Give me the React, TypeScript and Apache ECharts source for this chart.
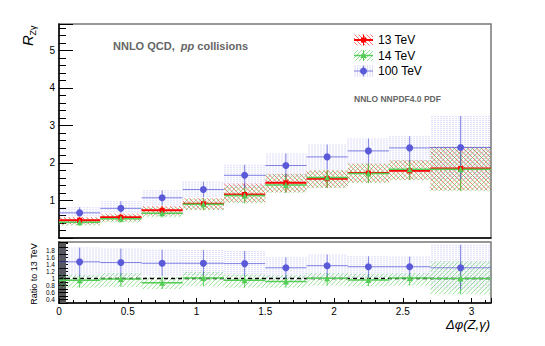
import React, { useEffect, useRef } from 'react';
import * as echarts from 'echarts';

// ---- data ----
const binEdges = [0, 0.3, 0.6, 0.9, 1.2, 1.5, 1.8, 2.1, 2.4, 2.7, Math.PI];

// top panel: R_Zgamma
const r13 = [0.47, 0.55, 0.74, 0.91, 1.16, 1.47, 1.58, 1.73, 1.79, 1.85];
const r13Lo = [0.36, 0.44, 0.6, 0.75, 0.95, 1.22, 1.34, 1.48, 1.55, 1.27];
const r13Hi = [0.56, 0.65, 0.85, 1.06, 1.45, 1.71, 1.8, 1.98, 2.07, 2.43];

const r14 = [0.42, 0.51, 0.66, 0.9, 1.13, 1.41, 1.61, 1.72, 1.83, 1.83];
const r14Lo = [0.33, 0.41, 0.55, 0.74, 0.92, 1.2, 1.33, 1.46, 1.54, 1.25];
const r14Hi = [0.53, 0.62, 0.82, 1.05, 1.4, 1.7, 1.8, 1.98, 2.07, 2.43];

const r100 = [0.67, 0.79, 1.07, 1.29, 1.67, 1.93, 2.16, 2.32, 2.4, 2.41];
const r100Lo = [0.58, 0.66, 0.87, 1.08, 1.32, 1.62, 1.82, 1.98, 2.02, 1.56];
const r100Hi = [0.82, 0.98, 1.27, 1.5, 1.95, 2.25, 2.49, 2.65, 2.71, 3.25];

// bottom panel: ratio to 13 TeV
const q14 = [0.95, 0.99, 0.88, 1.02, 0.95, 0.92, 1.01, 0.96, 1.02, 1.0];
const q14Lo = [0.74, 0.76, 0.7, 0.78, 0.74, 0.74, 0.8, 0.78, 0.8, 0.55];
const q14Hi = [1.11, 1.16, 1.05, 1.2, 1.12, 1.1, 1.16, 1.14, 1.16, 1.5];

const q100 = [1.48, 1.46, 1.44, 1.44, 1.43, 1.31, 1.37, 1.34, 1.34, 1.31];
const q100Lo = [1.06, 1.07, 1.07, 1.07, 1.08, 1.0, 1.02, 1.02, 1.04, 0.69];
const q100Hi = [1.89, 1.86, 1.83, 1.82, 1.79, 1.61, 1.69, 1.64, 1.63, 1.97];

const yTopLabels = [1, 2, 3, 4, 5];
const yRatioLabels = [0.4, 0.6, 0.8, 1, 1.2, 1.4, 1.6, 1.8];
const legendNames = ['13 TeV', '14 TeV', '100 TeV'];

// ---- style ----
const FONT = '"Liberation Sans", Arial, Helvetica, sans-serif';
const RED = '#ff0000';
const RED_H = 'rgba(255,30,30,0.6)';
const GREEN = '#55cc55';
const GREEN_H = 'rgba(80,205,80,0.6)';
const BLUE = '#5a5ad8';
const BLUE_L = 'rgba(90,90,216,0.75)';
const BLUE_H = 'rgba(110,110,232,0.45)';

type Kind = 'back' | 'fwd' | 'vert';

function hatch(x0: number, y0: number, x1: number, y1: number, kind: Kind, step: number, stroke: string, width = 1, dash?: number[]) {
  const out: any[] = [];
  const xa = Math.min(x0, x1), xb = Math.max(x0, x1);
  const ya = Math.min(y0, y1), yb = Math.max(y0, y1);
  const st: any = { stroke, lineWidth: width };
  if (dash) st.lineDash = dash;
  if (kind === 'vert') {
    for (let k = Math.ceil(xa / step) * step; k <= xb; k += step) {
      out.push({ type: 'line', shape: { x1: k, y1: ya, x2: k, y2: yb }, style: st, silent: true });
    }
  } else if (kind === 'back') {
    const kmin = xa - yb, kmax = xb - ya;
    for (let k = Math.ceil(kmin / step) * step; k <= kmax; k += step) {
      const s = Math.max(ya, xa - k), e = Math.min(yb, xb - k);
      if (e > s) out.push({ type: 'line', shape: { x1: k + s, y1: s, x2: k + e, y2: e }, style: st, silent: true });
    }
  } else {
    const kmin = xa + ya, kmax = xb + yb;
    for (let k = Math.ceil(kmin / step) * step; k <= kmax; k += step) {
      const s = Math.max(ya, k - xb), e = Math.min(yb, k - xa);
      if (e > s) out.push({ type: 'line', shape: { x1: k - s, y1: s, x2: k - e, y2: e }, style: st, silent: true });
    }
  }
  return out;
}

function rows(val: number[], lo: number[], hi: number[]) {
  return val.map((v, i) => [binEdges[i], binEdges[i + 1], lo[i], hi[i], v, (binEdges[i] + binEdges[i + 1]) / 2]);
}

function bandSeries(grid: number, val: number[], lo: number[], hi: number[], kind: Kind, color: string, z: number, dash?: number[]) {
  return {
    type: 'custom',
    xAxisIndex: grid,
    yAxisIndex: grid === 0 ? 0 : 1,
    silent: true,
    z,
    data: rows(val, lo, hi),
    dimensions: ['x0', 'x1', 'lo', 'hi', 'v', 'c'],
    encode: { x: [0, 1], y: [2, 3] },
    renderItem: (params: any, api: any) => {
      const a = api.coord([api.value(0), api.value(3)]);
      const b = api.coord([api.value(1), api.value(2)]);
      return { type: 'group', children: hatch(a[0], a[1], b[0], b[1], kind, kind === 'vert' ? 3 : 4.5, color, 1, dash) };
    },
  };
}

function barSeries(grid: number, val: number[], lo: number[], hi: number[], color: string, hWidth: number, vWidth: number, z: number) {
  return {
    type: 'custom',
    xAxisIndex: grid,
    yAxisIndex: grid === 0 ? 0 : 1,
    silent: true,
    z,
    data: rows(val, lo, hi),
    dimensions: ['x0', 'x1', 'lo', 'hi', 'v', 'c'],
    encode: { x: [0, 1], y: [2, 3] },
    renderItem: (params: any, api: any) => {
      const l = api.coord([api.value(0), api.value(4)]);
      const r = api.coord([api.value(1), api.value(4)]);
      const t = api.coord([api.value(5), api.value(3)]);
      const b = api.coord([api.value(5), api.value(2)]);
      return {
        type: 'group',
        children: [
          { type: 'line', shape: { x1: l[0], y1: l[1], x2: r[0], y2: r[1] }, style: { stroke: color, lineWidth: hWidth } },
          { type: 'line', shape: { x1: t[0], y1: t[1], x2: b[0], y2: b[1] }, style: { stroke: color, lineWidth: vWidth } },
        ],
      };
    },
  };
}

function markerSeries(grid: number, val: number[], symbol: string, size: number, color: string, z: number) {
  return {
    type: 'scatter',
    xAxisIndex: grid,
    yAxisIndex: grid === 0 ? 0 : 1,
    silent: true,
    z,
    symbol,
    symbolSize: size,
    itemStyle: { color, opacity: 1 },
    data: val.map((v, i) => [(binEdges[i] + binEdges[i + 1]) / 2, v]),
  };
}

function legendGraphic() {
  const els: any[] = [];
  const ys = [40, 55.5, 71];
  const x0 = 354, x1 = 373, cx = 363.5, hh = 5.5;
  const defs: any[] = [
    { kind: 'back', hc: RED_H, c: RED, lw: 2 },
    { kind: 'fwd', hc: GREEN_H, c: GREEN, lw: 1.5 },
    { kind: 'vert', hc: BLUE_H, c: BLUE_L, lw: 1, dash: [1, 1] },
  ];
  defs.forEach((d, i) => {
    const y = ys[i];
    hatch(x0, y - hh, x1, y + hh, d.kind, d.kind === 'vert' ? 2.5 : 4, d.hc, 1, d.dash).forEach((e) => els.push(e));
    els.push({ type: 'line', shape: { x1: x0, y1: y, x2: x1, y2: y }, style: { stroke: d.c, lineWidth: d.lw } });
    els.push({ type: 'line', shape: { x1: cx, y1: y - hh, x2: cx, y2: y + hh }, style: { stroke: d.c, lineWidth: 1 } });
    if (i === 0) els.push({ type: 'rect', shape: { x: cx - 2.5, y: y - 2.5, width: 5, height: 5 }, style: { fill: RED } });
    if (i === 1) els.push({ type: 'polygon', shape: { points: [[cx, y - 3.5], [cx + 3.2, y + 2.5], [cx - 3.2, y + 2.5]] }, style: { fill: GREEN } });
    if (i === 2) els.push({ type: 'circle', shape: { cx, cy: y, r: 3.5 }, style: { fill: BLUE } });
    els.push({
      type: 'text', x: 378, y,
      style: { text: legendNames[i], fontSize: 12, fontFamily: FONT, fill: '#000', textAlign: 'left', textVerticalAlign: 'middle' },
    });
  });
  return els;
}

export default function App() {
  const ref = useRef<HTMLDivElement>(null);
  useEffect(() => {
    if (!ref.current) return;
    const chart = echarts.init(ref.current, undefined, { renderer: 'svg' });
    const axisLine = { show: true, lineStyle: { color: '#000', width: 1.5 } };
    const option: any = {
      animation: false,
      backgroundColor: '#fff',
      grid: [
        { left: 59, top: 24, width: 432, height: 214, show: true, borderColor: '#777', borderWidth: 1.5, backgroundColor: 'transparent' },
        { left: 59, top: 242, width: 432, height: 61, show: true, borderColor: '#777', borderWidth: 1.5, backgroundColor: 'transparent' },
      ],
      xAxis: [
        {
          gridIndex: 0, type: 'value', min: 0, max: Math.PI,
          axisLine, axisTick: { show: false }, axisLabel: { show: false }, splitLine: { show: false },
        },
        {
          gridIndex: 1, type: 'value', min: 0, max: Math.PI, interval: 0.5,
          axisLine,
          axisTick: { show: true, inside: true, length: 5, lineStyle: { color: '#000' } },
          minorTick: { show: true, splitNumber: 5, length: 3, lineStyle: { color: '#000' } },
          axisLabel: {
            fontSize: 10, fontFamily: FONT, color: '#000', margin: 3,
            formatter: (v: number) => (Math.abs(v * 2 - Math.round(v * 2)) < 1e-6 ? String(Math.round(v * 10) / 10) : ''),
          },
          splitLine: { show: false },
        },
      ],
      yAxis: [
        {
          gridIndex: 0, type: 'value', min: 0, max: 5.7, interval: 1,
          axisLine,
          axisTick: { show: true, inside: true, length: 14, lineStyle: { color: '#000' } },
          minorTick: { show: true, splitNumber: 5, length: 7, lineStyle: { color: '#000' } },
          axisLabel: {
            fontSize: 10, fontFamily: FONT, color: '#000', margin: 4,
            formatter: (v: number) => (yTopLabels.indexOf(Math.round(v * 1000) / 1000) >= 0 ? String(v) : ''),
          },
          splitLine: { show: false },
        },
        {
          gridIndex: 1, type: 'value', min: 0.3, max: 2.05, interval: 0.1,
          axisLine,
          axisTick: { show: true, inside: true, length: 9, lineStyle: { color: '#000' } },
          minorTick: { show: true, splitNumber: 4, length: 7, lineStyle: { color: '#555' } },
          axisLabel: {
            fontSize: 6.5, fontFamily: FONT, color: '#000', margin: 4, lineHeight: 6.5,
            formatter: (v: number) => {
              const r = Math.round(v * 10) / 10;
              return yRatioLabels.indexOf(r) >= 0 ? String(r) : '';
            },
          },
          splitLine: { show: false },
        },
      ],
      series: [
        bandSeries(0, r100, r100Lo, r100Hi, 'vert', BLUE_H, 2, [1, 1]),
        bandSeries(0, r13, r13Lo, r13Hi, 'back', RED_H, 3),
        bandSeries(0, r14, r14Lo, r14Hi, 'fwd', GREEN_H, 4),
        barSeries(0, r13, r13Lo, r13Hi, RED, 2, 1, 5),
        barSeries(0, r14, r14Lo, r14Hi, GREEN, 1.5, 1, 6),
        barSeries(0, r100, r100Lo, r100Hi, BLUE_L, 1, 1, 7),
        markerSeries(0, r13, 'rect', 5, RED, 8),
        markerSeries(0, r14, 'triangle', 6, GREEN, 9),
        markerSeries(0, r100, 'circle', 7, BLUE, 10),
        bandSeries(1, q100, q100Lo, q100Hi, 'vert', BLUE_H, 2, [1, 1]),
        bandSeries(1, q14, q14Lo, q14Hi, 'fwd', GREEN_H, 3),
        {
          type: 'line', xAxisIndex: 1, yAxisIndex: 1, silent: true, z: 4, symbol: 'none',
          lineStyle: { color: '#000', width: 1.5, type: [4, 3] },
          data: [[0, 1], [Math.PI, 1]],
        },
        barSeries(1, q14, q14Lo, q14Hi, GREEN, 1.5, 1, 5),
        barSeries(1, q100, q100Lo, q100Hi, BLUE_L, 1, 1, 6),
        markerSeries(1, q14, 'triangle', 6, GREEN, 7),
        markerSeries(1, q100, 'circle', 7, BLUE, 8),
      ],
      graphic: [
        ...legendGraphic(),
        {
          type: 'text', x: 27, y: 46, rotation: Math.PI / 2,
          style: { text: 'R', fontSize: 15, fontStyle: 'italic', fontFamily: FONT, fill: '#000', textAlign: 'left', textVerticalAlign: 'middle' },
        },
        {
          type: 'text', x: 32.5, y: 35.5, rotation: Math.PI / 2,
          style: { text: 'Zγ', fontSize: 9, fontFamily: FONT, fill: '#000', textAlign: 'left', textVerticalAlign: 'middle' },
        },
        {
          type: 'text', x: 34, y: 274, rotation: Math.PI / 2,
          style: { text: 'Ratio to 13 TeV', fontSize: 9, fontFamily: FONT, fill: '#000', textAlign: 'center', textVerticalAlign: 'middle' },
        },
        {
          type: 'text', x: 113, y: 46,
          style: {
            text: '{a|NNLO QCD,  }{i|pp}{a| collisions}',
            textVerticalAlign: 'middle', textAlign: 'left',
            rich: {
              a: { fontSize: 11, fontWeight: 'bold', fontFamily: FONT, fill: '#666' },
              i: { fontSize: 11, fontWeight: 'bold', fontStyle: 'italic', fontFamily: FONT, fill: '#666' },
            },
          },
        },
        {
          type: 'text', x: 354, y: 99,
          style: { text: 'NNLO NNPDF4.0 PDF', fontSize: 8.5, fontWeight: 'bold', fontFamily: FONT, fill: '#666', textAlign: 'left', textVerticalAlign: 'middle' },
        },
        {
          type: 'text', x: 490, y: 324,
          style: { text: 'Δφ(Z,γ)', fontSize: 13, fontStyle: 'italic', fontFamily: FONT, fill: '#000', textAlign: 'right', textVerticalAlign: 'middle' },
        },
      ],
    };
    chart.setOption(option);
    return () => chart.dispose();
  }, []);
  return <div ref={ref} style={{ position: 'absolute', left: 0, top: 0, width: 545, height: 346 }} />;
}
